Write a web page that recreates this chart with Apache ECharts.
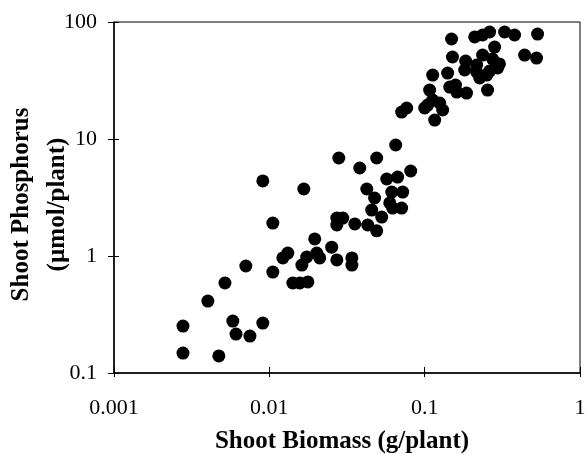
<!DOCTYPE html>
<html>
<head>
<meta charset="utf-8">
<script src="https://cdn.jsdelivr.net/npm/echarts@6/dist/echarts.min.js"></script>
<style>html,body{margin:0;padding:0;background:#fff}#c{width:585px;height:454px}</style>
</head>
<body>
<div id="c"></div>
<script>
// Shoot biomass (g/plant)
const biomass = [
  0.00278,0.00278,0.00473,0.00402,0.00518,0.00706,0.00582,0.0061,0.0075,0.00908,
  0.01053,0.01315,0.01222,0.0174,0.0202,0.0211,0.0162,0.0252,0.0272,0.034,
  0.034,0.01416,0.0157,0.0177,0.0196,
  0.00908,0.01667,0.01053,0.028,0.0382,0.0491,0.0651,0.0813,0.0424,0.0476,
  0.0456,0.0529,0.057,0.067,0.0614,0.0722,0.0596,0.0711,0.0622,0.0272,
  0.0297,0.0272,0.0355,0.043,0.0491,
  0.149,0.21,0.236,0.262,0.327,0.379,0.533,0.282,0.151,0.1836,
  0.216,0.236,0.2735,0.303,0.44,0.525,0.181,0.216,0.262,0.1126,
  0.1406,0.295,0.1076,0.145,0.161,0.186,0.254,0.1045,0.1126,0.1306,
  0.1249,0.116,0.1,0.0711,0.0766,0.226,0.251,0.158
];
// Shoot phosphorus (µmol/plant)
const phosphorus = [
  0.252,0.148,0.140,0.412,0.588,0.821,0.278,0.215,0.207,0.267,
  0.729,1.06,0.962,0.98,1.06,0.962,0.837,1.19,0.925,0.962,
  0.837,0.588,0.588,0.60,1.40,
  4.38,3.74,1.91,6.88,5.65,6.88,8.89,5.33,3.74,3.13,
  2.47,2.15,4.55,4.73,3.52,3.52,2.84,2.57,2.57,2.11,
  2.11,1.84,1.88,1.84,1.64,
  71.6,74.5,77.4,82.1,82.1,77.4,78.9,61.1,50.2,46.4,
  42.9,52.2,48.3,43.8,52.2,49.2,38.9,37.4,38.1,35.2,
  36.6,40.5,26.2,27.8,25.2,24.7,26.2,19.5,21.5,17.7,
  20.3,14.5,18.4,17.0,18.4,33.2,35.2,28.9
];
const xTickLabels = {0.001:'0.001',0.01:'0.01',0.1:'0.1',1:'1'};
const yTickLabels = {0.1:'0.1',1:'1',10:'10',100:'100'};

const points = biomass.map((b, i) => [b, phosphorus[i]]);
const serif = 'Liberation Serif';
const fmt = (map) => (v) => {
  for (const k in map) { if (Math.abs(Math.log10(v) - Math.log10(+k)) < 1e-6) return map[k]; }
  return '';
};

const chart = echarts.init(document.getElementById('c'), null, {renderer: 'canvas'});
chart.setOption({
  animation: false,
  backgroundColor: '#fff',
  grid: {left: 114, right: 5, top: 22, bottom: 81, outerBoundsMode: 'none', containLabel: false,
         show: true, borderColor: '#000', borderWidth: 1, backgroundColor: 'transparent'},
  xAxis: [{
    type: 'log', logBase: 10, min: 0.001, max: 1, position: 'bottom',
    name: 'Shoot Biomass (g/plant)', nameLocation: 'middle', nameGap: 56, nameMoveOverlap: false,
    nameTextStyle: {fontFamily: serif, fontWeight: 'bold', fontSize: 25, color: '#000', padding: [0, 10, 0, 0]},
    axisLine: {show: true, lineStyle: {color: '#000', width: 1.5}},
    axisTick: {show: true, inside: false, length: 4, lineStyle: {color: '#000', width: 1}},
    axisLabel: {show: true, margin: 24, fontFamily: serif, fontSize: 22, color: '#000', formatter: fmt(xTickLabels), showMaxLabel: true, showMinLabel: true},
    splitLine: {show: false}, minorTick: {show: false}
  }, {
    type: 'log', logBase: 10, min: 0.001, max: 1, position: 'bottom',
    axisLine: {show: false}, axisLabel: {show: false},
    axisTick: {show: true, inside: true, length: 6, lineStyle: {color: '#000', width: 1}},
    splitLine: {show: false}
  }],
  yAxis: [{
    type: 'log', logBase: 10, min: 0.1, max: 100, position: 'left',
    name: 'Shoot Phosphorus\n(µmol/plant)', nameLocation: 'middle', nameGap: 74, nameRotate: 90, nameMoveOverlap: false,
    nameTextStyle: {fontFamily: serif, fontWeight: 'bold', fontSize: 25, color: '#000', lineHeight: 36, align: 'center', verticalAlign: 'middle', padding: [0, 14, 0, 0]},
    axisLine: {show: true, lineStyle: {color: '#000', width: 1.5}},
    axisTick: {show: true, inside: false, length: 6, lineStyle: {color: '#000', width: 1}},
    axisLabel: {show: true, margin: 17, fontFamily: serif, fontSize: 22, color: '#000', formatter: fmt(yTickLabels)},
    splitLine: {show: false}, minorTick: {show: false}
  }, {
    type: 'log', logBase: 10, min: 0.1, max: 100, position: 'left',
    axisLine: {show: false}, axisLabel: {show: false},
    axisTick: {show: true, inside: true, length: 5, lineStyle: {color: '#000', width: 1}},
    splitLine: {show: false}
  }],
  series: [{
    type: 'scatter', xAxisIndex: 0, yAxisIndex: 0,
    data: points, symbol: 'circle', symbolSize: 13,
    itemStyle: {color: '#000', opacity: 1}
  }]
});
</script>
</body>
</html>
